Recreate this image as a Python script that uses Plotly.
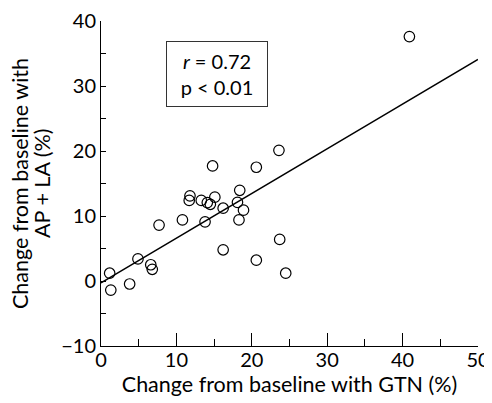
import plotly.graph_objects as go

# Data
gtn_change = [40.9, 23.6, 14.8, 20.6, 18.4, 11.8, 11.7, 13.3, 15.1, 14.1, 14.5, 16.2, 18.1, 18.9,
              18.3, 13.8, 10.8, 7.7, 23.7, 16.2, 20.6, 4.9, 6.6, 6.8, 1.15, 24.5, 3.8, 1.3]
apla_change = [37.6, 20.1, 17.7, 17.5, 13.95, 13.1, 12.4, 12.4, 12.9, 12.06, 11.8, 11.2, 12.1, 10.9,
               9.4, 9.1, 9.4, 8.6, 6.4, 4.8, 3.2, 3.4, 2.5, 1.8, 1.2, 1.2, -0.46, -1.4]

fit_intercept = -0.3
fit_slope = 0.688
fit_x = [0, 50]
fit_y = [fit_intercept + fit_slope * v for v in fit_x]

x_ticks = [0, 10, 20, 30, 40, 50]
y_ticks = [-10, 0, 10, 20, 30, 40]
y_tick_text = ["\u221210", "0", "10", "20", "30", "40"]
y_title_lines = ["Change from baseline with", "AP + LA (%)"]

FONT = "Lato"
# the page body has an 8px margin, so the figure is 8px smaller than the window
W, H = 484, 395
L, R, T, B = 93, 14, 13, 57
PW = W - L - R
PH = H - T - B

fig = go.Figure()
fig.add_trace(go.Scatter(x=fit_x, y=fit_y, mode="lines",
                         line=dict(color="black", width=1.5), showlegend=False, hoverinfo="skip"))
fig.add_trace(go.Scatter(x=gtn_change, y=apla_change, mode="markers",
                         marker=dict(symbol="circle-open", size=10.5, color="black",
                                     line=dict(color="black", width=1.2)),
                         showlegend=False, cliponaxis=False))

fig.add_annotation(x=15.4, y=31.8, xref="x", yref="y",
                   text="<i>r</i> = 0.72<br>p &lt; 0.01", showarrow=False,
                   font=dict(family=FONT, size=20, color="black"),
                   bordercolor="#333", borderwidth=1, borderpad=4,
                   width=92, height=56, bgcolor="white", align="center")

# y-axis title as two rotated lines
for line_text, px in zip(y_title_lines, [12, 34]):
    fig.add_annotation(x=(px - L) / PW, y=(H - B - 176) / PH,
                       xref="paper", yref="paper", text=line_text, textangle=-90,
                       showarrow=False, xanchor="center", yanchor="middle",
                       font=dict(family=FONT, size=21.5, color="black"))

fig.update_layout(
    width=W, height=H,
    margin=dict(l=L, r=R, t=T, b=B),
    paper_bgcolor="white", plot_bgcolor="white",
    font=dict(family=FONT, size=17, color="black"),
)
fig.update_xaxes(range=[0, 50], tickvals=x_ticks, ticks="inside", ticklen=13, tickwidth=1,
                 tickcolor="black", showline=True, linecolor="black", linewidth=1,
                 showgrid=False, zeroline=False, mirror=False, automargin=False,
                 ticklabelstandoff=-4,
                 minor=dict(ticks="inside", ticklen=7, dtick=5, tickcolor="black", tickwidth=1),
                 title=dict(text="Change from baseline with GTN (%)", font=dict(size=21.5), standoff=3),
                 tickfont=dict(size=20))
fig.update_yaxes(range=[-10, 40], tickvals=y_ticks, ticktext=y_tick_text, ticks="inside", ticklen=5,
                 tickwidth=1, tickcolor="black", showline=True, linecolor="black", linewidth=1,
                 showgrid=False, zeroline=False, mirror=False, automargin=False,
                 minor=dict(ticks="inside", ticklen=5, tickvals=[-5, 5, 15, 25, 35], tickcolor="black", tickwidth=1),
                 tickfont=dict(size=20))

fig.write_html("out.html")
